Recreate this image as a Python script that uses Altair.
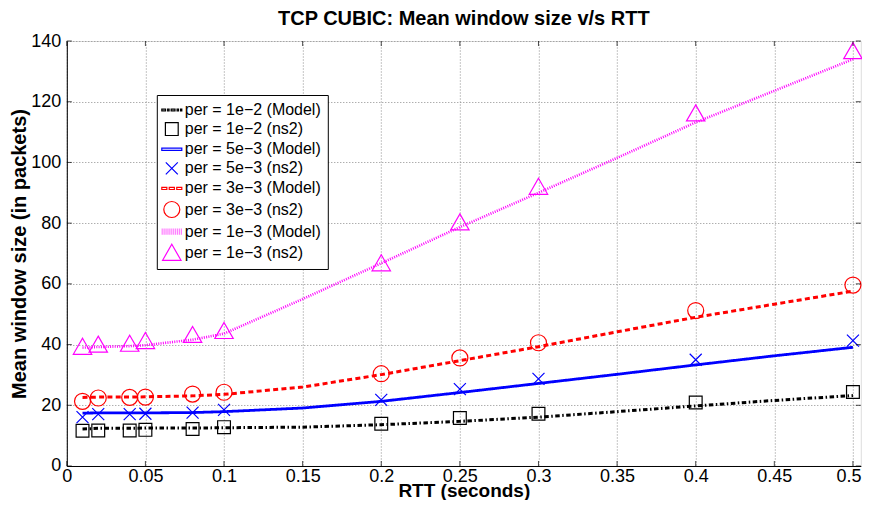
import altair as alt
import pandas as pd

# ---------------- data ----------------
x_model = [0.01, 0.02, 0.04, 0.05, 0.08, 0.1, 0.15, 0.2, 0.25, 0.3, 0.35, 0.4, 0.45, 0.5]
model_1e2 = [12.2, 12.4, 12.4, 12.5, 12.5, 12.6, 12.8, 13.6, 14.7, 16.1, 17.9, 19.8, 21.6, 23.2]
model_5e3 = [17.4, 17.5, 17.5, 17.5, 17.6, 17.9, 19.1, 21.3, 24.2, 27.2, 30.2, 33.3, 36.3, 39.1]
model_3e3 = [22.6, 22.7, 22.7, 22.8, 23.1, 23.6, 26.0, 30.1, 34.7, 39.3, 44.2, 49.0, 53.3, 57.6]
model_1e3 = [39.0, 39.2, 39.5, 39.8, 41.6, 43.6, 55.0, 66.8, 78.7, 90.0, 101.5, 113.2, 123.6, 134.0]

x_ns2 = [0.01, 0.02, 0.04, 0.05, 0.08, 0.1, 0.2, 0.25, 0.3, 0.4, 0.5]
ns2_1e2 = [11.6, 11.7, 11.7, 11.9, 12.2, 12.8, 13.9, 15.8, 17.2, 20.9, 24.4]
ns2_5e3 = [16.1, 17.1, 17.1, 17.2, 17.6, 18.5, 21.8, 25.3, 28.7, 35.0, 41.3]
ns2_3e3 = [21.3, 22.4, 22.6, 22.7, 23.7, 24.3, 30.4, 35.6, 40.6, 51.2, 59.6]
ns2_1e3 = [39.3, 40.0, 40.3, 41.2, 43.2, 44.5, 66.8, 80.3, 92.0, 116.2, 136.7]

labels = [
    "per = 1e\u22122 (Model)", "per = 1e\u22122 (ns2)",
    "per = 5e\u22123 (Model)", "per = 5e\u22123 (ns2)",
    "per = 3e\u22123 (Model)", "per = 3e\u22123 (ns2)",
    "per = 1e\u22123 (Model)", "per = 1e\u22123 (ns2)",
]

x_ticks = [0, 0.05, 0.1, 0.15, 0.2, 0.25, 0.3, 0.35, 0.4, 0.45, 0.5]
y_ticks = [0, 20, 40, 60, 80, 100, 120, 140]

# ---------------- styling ----------------
W, H = 794, 425
FONT = "Liberation Sans"
BLACK, BLUE, RED, MAG = "#000000", "#0000ff", "#ff0000", "#ff00ff"

legend_colors = [BLACK, BLACK, BLUE, BLUE, RED, RED, "#ff7fff", MAG]
rect = lambda a, b, h: f"M{a},{-h}H{b}V{h}H{a}Z"
legend_shapes = [
    rect(-1.25, -0.78, 0.12) + rect(-0.52, -0.34, 0.12) + rect(-0.08, 0.4, 0.12)
    + rect(0.66, 0.84, 0.12) + rect(1.1, 1.25, 0.12),
    "M-0.8,-0.8H0.8V0.8H-0.8Z",
    rect(-1.25, 1.25, 0.14),
    "M-0.75,-0.75L0.75,0.75M-0.75,0.75L0.75,-0.75",
    rect(-1.25, -0.62, 0.14) + rect(-0.32, 0.32, 0.14) + rect(0.62, 1.25, 0.14),
    "circle",
    "".join(f"M{-1.2 + 0.24 * i:.2f},-0.4V0.4" for i in range(11)),
    "M0,-1.05L1.15,0.95L-1.15,0.95Z",
]

xscale = alt.Scale(domain=[0, 0.505], nice=False, zero=False)
yscale = alt.Scale(domain=[0, 140], nice=False)

axis_common = dict(
    grid=True, gridDash=[1, 2], gridColor="#8c8c8c", gridWidth=1,
    ticks=False, domainColor="black", domainWidth=1,
    labelFont=FONT, labelFontSize=18, labelColor="black",
    titleFont=FONT, titleFontWeight="bold", titleColor="black",
)
xaxis = alt.Axis(values=x_ticks, format="~g", labelPadding=2, title="RTT (seconds)",
                 titleY=31, titleBaseline="alphabetic", titleFontSize=19, labelFlush=False,
                 labelAlign=alt.expr("datum.value >= 0.5 ? 'right' : 'center'"),
                 labelOffset=alt.expr("datum.value >= 0.5 ? 8 : 0"),
                 **axis_common)
yaxis = alt.Axis(values=y_ticks, format="d", labelPadding=6, title="Mean window size (in packets)",
                 titleX=-41, titleBaseline="alphabetic", titleFontSize=20, **axis_common)

X = lambda: alt.X("x:Q", scale=xscale, axis=xaxis)
Y = lambda: alt.Y("y:Q", scale=yscale, axis=yaxis)

# ---------------- model lines ----------------
model_series = [
    (labels[0], model_1e2, BLACK, [4.5, 2.5, 1.5, 2.5], 3.0),
    (labels[2], model_5e3, BLUE, [1, 0], 2.8),
    (labels[4], model_3e3, RED, [5, 3.3], 3.0),
    (labels[6], model_1e3, MAG, [1, 1.3], 2.6),
]
layers = []
for name, ys, col, dash, sw in model_series:
    df = pd.DataFrame({"x": x_model, "y": ys, "series": name})
    layers.append(
        alt.Chart(df).mark_line(color=col, strokeDash=dash, strokeWidth=sw)
        .encode(x=X(), y=Y(), order="x:Q")
    )

# ---------------- ns2 markers ----------------
ns2_frames = []
for name, ys in [(labels[1], ns2_1e2), (labels[3], ns2_5e3), (labels[5], ns2_3e3), (labels[7], ns2_1e3)]:
    ns2_frames.append(pd.DataFrame({"x": x_ns2, "y": ys, "series": name}))
ns2_df = pd.concat(ns2_frames, ignore_index=True)

legend = alt.Legend(
    title=None, orient="none", legendX=90, legendY=54,
    padding=6, rowPadding=2.1, labelFont=FONT, labelFontSize=16, labelColor="black",
    labelOffset=4, labelLimit=400, symbolSize=256, symbolStrokeWidth=1.2,
    strokeColor="black", fillColor="white", cornerRadius=0,
)
points = alt.Chart(ns2_df).mark_point(filled=False, size=256, strokeWidth=1.2, opacity=1).encode(
    x=X(), y=Y(),
    color=alt.Color("series:N", scale=alt.Scale(domain=labels, range=legend_colors), legend=legend),
    shape=alt.Shape("series:N", scale=alt.Scale(domain=labels, range=legend_shapes), legend=legend),
)
layers.append(points)

# ---------------- inward box ticks (MATLAB style) ----------------
xt = pd.DataFrame({"x": x_ticks})
yt = pd.DataFrame({"y": y_ticks})
tick_style = dict(color="black", thickness=1, size=5)
layers.append(alt.Chart(xt).mark_tick(orient="vertical", **tick_style).encode(x=X(), y=alt.value(H - 2.5)))
layers.append(alt.Chart(xt).mark_tick(orient="vertical", **tick_style).encode(x=X(), y=alt.value(2.5)))
layers.append(alt.Chart(yt).mark_tick(orient="horizontal", **tick_style).encode(y=Y(), x=alt.value(2.5)))
layers.append(alt.Chart(yt).mark_tick(orient="horizontal", **tick_style).encode(y=Y(), x=alt.value(W - 2.5)))

chart = alt.layer(*layers).properties(
    width=W, height=H,
    title=alt.TitleParams("TCP CUBIC: Mean window size v/s RTT", font=FONT, fontSize=20,
                          fontWeight="bold", color="black", anchor="middle", offset=3,
                          frame="group"),
    autosize=alt.AutoSizeParams(type="none"),
    padding={"left": 58.8, "top": 33, "right": 1, "bottom": 34},
).configure_view(stroke="black", strokeWidth=1).configure(background="white")

chart.save("out.html", embed_options={"renderer": "svg", "actions": False})
